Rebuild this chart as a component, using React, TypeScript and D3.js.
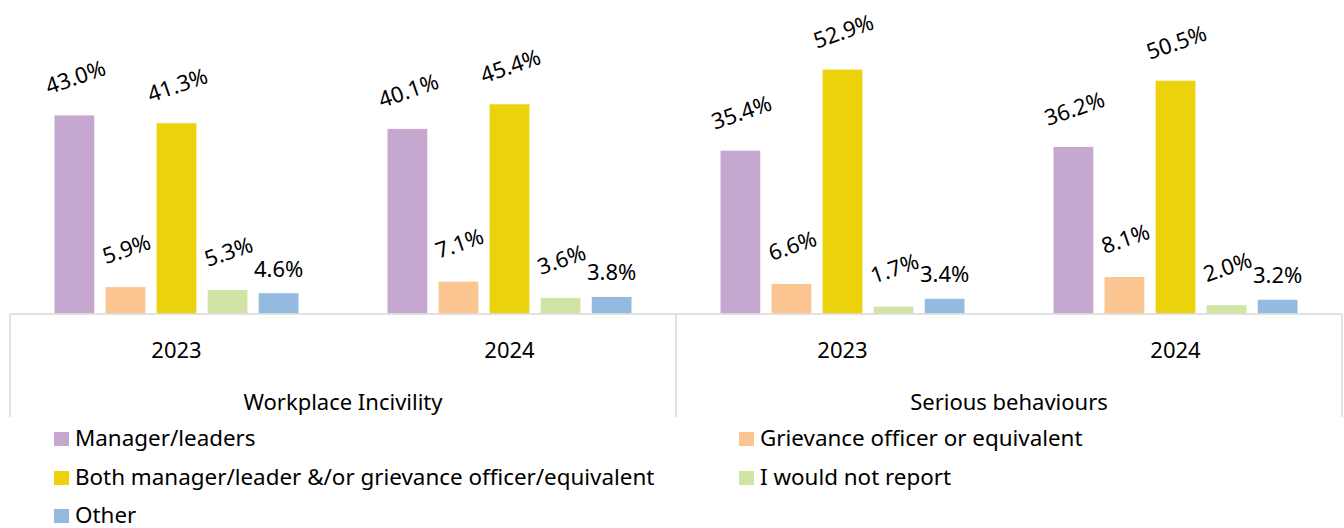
import { useEffect, useRef } from 'react';
import * as d3 from 'd3';

// categories: two groups, each with two years
const groups = ['Workplace Incivility', 'Serious behaviours'];
const years = ['2023', '2024'];

const seriesNames = [
  'Manager/leaders',
  'Grievance officer or equivalent',
  'Both manager/leader &/or grievance officer/equivalent',
  'I would not report',
  'Other',
];
const seriesColors = ['#C6A7CF', '#FAC590', '#EBD20B', '#D2E4A4', '#94BBDF'];

// values per category: WI 2023, WI 2024, SB 2023, SB 2024
const managerLeaders = [43.0, 40.1, 35.4, 36.2];
const grievanceOfficer = [5.9, 7.1, 6.6, 8.1];
const bothManagerGrievance = [41.3, 45.4, 52.9, 50.5];
const wouldNotReport = [5.3, 3.6, 1.7, 2.0];
const other = [4.6, 3.8, 3.4, 3.2];

const seriesValues = [managerLeaders, grievanceOfficer, bothManagerGrievance, wouldNotReport, other];

const W = 1344;
const H = 528;
const FONT = '"Noto Sans", "Segoe UI", sans-serif';
const GRID = '#D9D9D9';

export default function App() {
  const svgRef = useRef<SVGSVGElement>(null);

  useEffect(() => {
    if (!svgRef.current) return;
    const svg = d3.select(svgRef.current);
    svg.selectAll('*').remove();

    const left = 10;
    const right = 1342;
    const baseline = 314;
    const catBottom = 417;

    const categories = groups.flatMap((g) => years.map((y) => `${g}|${y}`));

    const x0 = d3.scaleBand().domain(categories).range([left, right]);
    const x1 = d3
      .scaleBand()
      .domain(seriesNames)
      .range([0, x0.bandwidth()])
      .paddingInner(0.2)
      .paddingOuter(0.862);
    const y = d3.scaleLinear().domain([0, 60]).range([baseline, baseline - 277.8]);

    const g = svg.append('g').attr('font-family', FONT);

    // bars
    seriesNames.forEach((s, si) => {
      const vals = seriesValues[si];
      g.append('g')
        .selectAll('rect')
        .data(vals)
        .join('rect')
        .attr('x', (_, i) => (x0(categories[i]) ?? 0) + (x1(s) ?? 0))
        .attr('y', (d) => y(d))
        .attr('width', x1.bandwidth())
        .attr('height', (d) => baseline - y(d))
        .attr('fill', seriesColors[si])
        .attr('stroke', '#fff')
        .attr('stroke-width', 1);

      // value labels ("Other" stays horizontal, the rest are tilted)
      const rotated = s !== 'Other';
      g.append('g')
        .selectAll('text')
        .data(vals)
        .join('text')
        .attr('transform', (d, i) => {
          const cx = (x0(categories[i]) ?? 0) + (x1(s) ?? 0) + x1.bandwidth() / 2;
          return rotated
            ? `translate(${cx + 1},${y(d) - 38}) rotate(-19)`
            : `translate(${cx},${y(d) - 16})`;
        })
        .attr('y', rotated ? 8 : 0)
        .attr('text-anchor', 'middle')
        .attr('font-size', 22)
        .attr('fill', '#000')
        .text((d) => `${d.toFixed(1)}%`);
    });

    // axis line and category separators
    g.append('line')
      .attr('x1', left)
      .attr('x2', right)
      .attr('y1', baseline)
      .attr('y2', baseline)
      .attr('stroke', GRID)
      .attr('stroke-width', 1.5);

    const groupEdges = [left, x0(categories[2]) ?? 0, right];
    g.selectAll('.sep')
      .data(groupEdges)
      .join('line')
      .attr('class', 'sep')
      .attr('x1', (d) => d)
      .attr('x2', (d) => d)
      .attr('y1', baseline)
      .attr('y2', catBottom)
      .attr('stroke', GRID)
      .attr('stroke-width', 1.5);

    // year labels
    g.selectAll('.year')
      .data(categories)
      .join('text')
      .attr('class', 'year')
      .attr('x', (d) => (x0(d) ?? 0) + x0.bandwidth() / 2)
      .attr('y', 358)
      .attr('text-anchor', 'middle')
      .attr('font-size', 22)
      .attr('fill', '#000')
      .text((d) => d.split('|')[1]);

    // group labels
    g.selectAll('.grp')
      .data(groups)
      .join('text')
      .attr('class', 'grp')
      .attr('x', (d) => {
        const a = x0(`${d}|${years[0]}`) ?? 0;
        const b = (x0(`${d}|${years[years.length - 1]}`) ?? 0) + x0.bandwidth();
        return (a + b) / 2;
      })
      .attr('y', 410)
      .attr('text-anchor', 'middle')
      .attr('font-size', 22)
      .attr('fill', '#000')
      .text((d) => d);

    // legend: two columns, row-major
    const colX = [54, 739];
    const rowY = [439, 478, 516];
    const legend = g
      .append('g')
      .selectAll('g')
      .data(seriesNames)
      .join('g')
      .attr('transform', (_, i) => `translate(${colX[i % 2]},${rowY[Math.floor(i / 2)]})`);
    legend
      .append('rect')
      .attr('x', 0)
      .attr('y', -7)
      .attr('width', 15)
      .attr('height', 14)
      .attr('fill', (_, i) => seriesColors[i]);
    legend
      .append('text')
      .attr('x', 21)
      .attr('y', 7)
      .attr('font-size', 22.4)
      .attr('fill', '#000')
      .text((d) => d);
  }, []);

  return (
    <svg
      ref={svgRef}
      width={W}
      height={H}
      style={{ position: 'absolute', left: 0, top: 0, background: '#fff' }}
    />
  );
}
